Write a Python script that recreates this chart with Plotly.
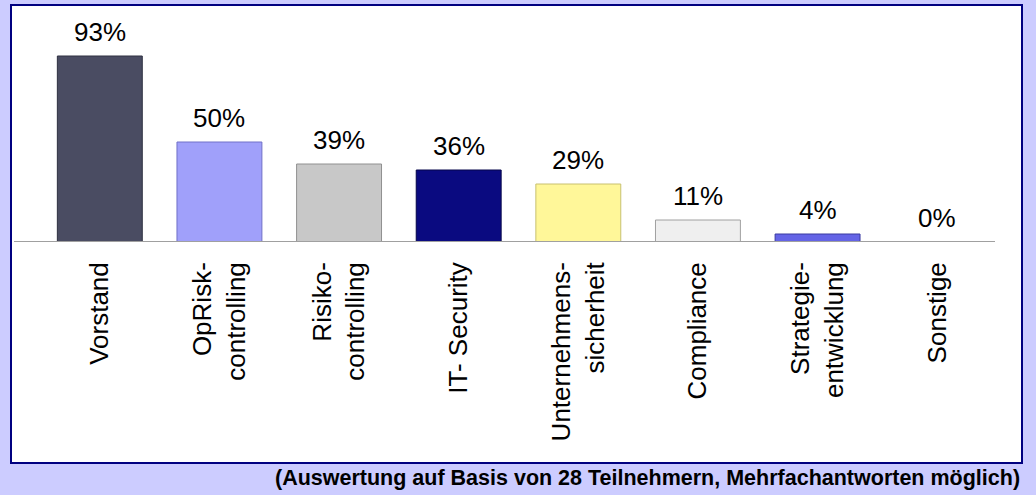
import plotly.graph_objects as go

categories = ["Vorstand", "OpRisk-<br>controlling", "Risiko-<br>controlling", "IT- Security",
              "Unternehmens-<br>sicherheit", "Compliance", "Strategie-<br>entwicklung", "Sonstige"]
values = [93, 50, 39, 36, 29, 11, 4, 0]
bar_colors = ["#4A4C62", "#A0A0FA", "#C8C8C8", "#0A0A80", "#FFF799", "#EFEFEF", "#6464E6", "#CCCCCC"]
line_colors = ["#2E3040", "#7070C8", "#909090", "#05054A", "#C8C070", "#A0A0A0", "#3A3AA0", "#909090"]
footer = "(Auswertung auf Basis von 28 Teilnehmern, Mehrfachantworten möglich)"

FONT = "Arial, Liberation Sans, sans-serif"

fig = go.Figure()
fig.add_trace(go.Bar(
    x=categories, y=values,
    width=0.71,
    marker=dict(color=bar_colors, line=dict(color=line_colors, width=1)),
    hoverinfo="skip",
    cliponaxis=False,
))

# plot area: x 40..997 px, y 22..242 px
L, R, T, B = 40, 39, 22, 253
W, H = 1036 - L - R, 495 - T - B

def px(x):
    return (x - L) / W

def py(y):
    return (T + H - y) / H

shapes = [
    # inner white panel with navy border
    dict(type="rect", xref="paper", yref="paper", x0=px(11), x1=px(1022), y0=py(463), y1=py(5),
         fillcolor="white", line=dict(color="#000080", width=2), layer="below"),
    # baseline
    dict(type="line", xref="paper", yref="y", x0=px(14), x1=px(995), y0=0, y1=0,
         line=dict(color="#A0A0A0", width=2)),
]

annotations = [dict(x=c, y=v, xref="x", yref="y", text=f"{v}%", showarrow=False,
                    xanchor="center", yanchor="bottom", yshift=7,
                    font=dict(family=FONT, size=26, color="#000000"))
               for c, v in zip(categories, values)]
annotations.append(dict(text="<b>" + footer + "</b>", xref="paper", yref="paper",
                        x=px(1022), y=py(478), xanchor="right", yanchor="middle",
                        showarrow=False, font=dict(size=21.5, family=FONT, color="#000000")))

fig.update_layout(
    width=1036, height=495,
    margin=dict(l=L, r=R, t=T, b=B),
    paper_bgcolor="#CCCCFF",
    plot_bgcolor="rgba(0,0,0,0)",
    showlegend=False,
    shapes=shapes,
    font=dict(family=FONT, color="#000000"),
    xaxis=dict(tickangle=-90, tickfont=dict(size=26, family=FONT),
               showline=False, showgrid=False, zeroline=False, ticks="",
               ticklabelstandoff=14),
    yaxis=dict(range=[0, 110], visible=False, showgrid=False, zeroline=False),
    annotations=annotations,
)

fig.write_html("out.html", config={"displayModeBar": False},
               post_script="document.body.style.margin='0';document.body.style.overflow='hidden';")
